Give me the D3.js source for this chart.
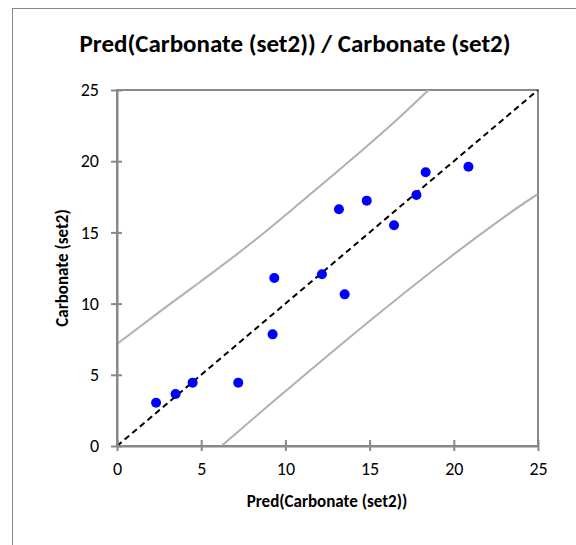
<!DOCTYPE html>
<html>
<head>
<meta charset="utf-8">
<script src="https://cdn.jsdelivr.net/npm/d3@7"></script>
<style>
  html, body { margin: 0; padding: 0; background: #fff; }
  svg { display: block; }
</style>
</head>
<body>
<svg id="chart" width="576" height="545"></svg>
<script>
// Observed vs predicted carbonate (set2)
const predicted = [2.32, 3.48, 4.49, 7.2, 9.24, 9.34, 12.17, 13.52, 13.18, 14.83, 16.45, 17.78, 18.33, 20.87];
const observed  = [3.04, 3.65, 4.45, 4.45, 7.84, 11.8, 12.06, 10.65, 16.62, 17.23, 15.5, 17.63, 19.22, 19.61];

// Prediction band (upper and lower), as [x, y] pairs
const upperBandX = [0, 2.5, 4.93, 7.9, 11.07, 14, 16.6, 18.5, 20];
const upperBandY = [7.16, 9.4, 11.52, 14.18, 17.27, 20.2, 22.9, 25, 26.7];
const lowerBandX = [5, 6.2, 10, 15.02, 19.6, 23.3, 25];
const lowerBandY = [-1.2, 0, 3.85, 8.8, 13.1, 16.34, 17.7];

const xTicks = [0, 5, 10, 15, 20, 25];
const yTicks = [0, 5, 10, 15, 20, 25];

const titleText = "Pred(Carbonate (set2)) / Carbonate (set2)";
const xTitle = "Pred(Carbonate (set2))";
const yTitle = "Carbonate (set2)";

const svg = d3.select("#chart");
const font = "Calibri, Carlito, 'Open Sans', sans-serif";

// Chart area frame
svg.append("rect")
  .attr("x", 12.5).attr("y", 8.5)
  .attr("width", 600).attr("height", 600)
  .attr("fill", "#fff").attr("stroke", "#888").attr("stroke-width", 1);

const plot = { left: 117, right: 538, top: 90, bottom: 446 };
const x = d3.scaleLinear().domain([0, 25]).range([plot.left, plot.right]);
const y = d3.scaleLinear().domain([0, 25]).range([plot.bottom, plot.top]);

svg.append("defs").append("clipPath").attr("id", "plotClip")
  .append("rect")
  .attr("x", plot.left).attr("y", plot.top)
  .attr("width", plot.right - plot.left).attr("height", plot.bottom - plot.top);

// Plot area border
svg.append("rect")
  .attr("x", plot.left).attr("y", plot.top)
  .attr("width", plot.right - plot.left).attr("height", plot.bottom - plot.top)
  .attr("fill", "none").attr("stroke", "#888").attr("stroke-width", 2);

const g = svg.append("g").attr("clip-path", "url(#plotClip)");

const line = d3.line().curve(d3.curveCatmullRom).x(d => x(d[0])).y(d => y(d[1]));
const upper = upperBandX.map((v, i) => [v, upperBandY[i]]);
const lower = lowerBandX.map((v, i) => [v, lowerBandY[i]]);

[upper, lower].forEach(band => {
  g.append("path").datum(band)
    .attr("d", line)
    .attr("fill", "none").attr("stroke", "#b0b0b0").attr("stroke-width", 2);
});

// Identity line
g.append("path").datum([[0, 0], [25, 25]])
  .attr("d", d3.line().x(d => x(d[0])).y(d => y(d[1])))
  .attr("fill", "none").attr("stroke", "#000").attr("stroke-width", 2)
  .attr("stroke-dasharray", "6,4");

// Points
svg.append("g").selectAll("circle")
  .data(predicted.map((v, i) => [v, observed[i]]))
  .join("circle")
  .attr("cx", d => x(d[0])).attr("cy", d => y(d[1]))
  .attr("r", 5).attr("fill", "#0000ff");

// Axes with crossing ticks
const xAxis = d3.axisBottom(x).tickValues(xTicks).tickSize(0).tickPadding(16);
const yAxis = d3.axisLeft(y).tickValues(yTicks).tickSize(0).tickPadding(18);

const xg = svg.append("g").attr("transform", `translate(0,${plot.bottom})`).call(xAxis);
const yg = svg.append("g").attr("transform", `translate(${plot.left},0)`).call(yAxis);
[xg, yg].forEach(a => {
  a.select(".domain").attr("stroke", "#888").attr("stroke-width", 2);
  a.selectAll("text").attr("font-family", font).attr("font-size", 18).attr("fill", "#000");
});
xg.selectAll(".tick").append("line").attr("y1", -6).attr("y2", 5).attr("stroke", "#888").attr("stroke-width", 2);
yg.selectAll(".tick").append("line").attr("x1", -6).attr("x2", 5).attr("stroke", "#888").attr("stroke-width", 2);

// Titles
svg.append("text")
  .attr("x", 295).attr("y", 52)
  .attr("text-anchor", "middle")
  .attr("font-family", font).attr("font-weight", "bold").attr("font-size", 25)
  .text(titleText);

svg.append("text")
  .attr("x", 327).attr("y", 507)
  .attr("text-anchor", "middle")
  .attr("font-family", font).attr("font-weight", "bold").attr("font-size", 17)
  .text(xTitle);

svg.append("text")
  .attr("transform", `translate(68,268) rotate(-90)`)
  .attr("text-anchor", "middle")
  .attr("font-family", font).attr("font-weight", "bold").attr("font-size", 17)
  .text(yTitle);
</script>
</body>
</html>
